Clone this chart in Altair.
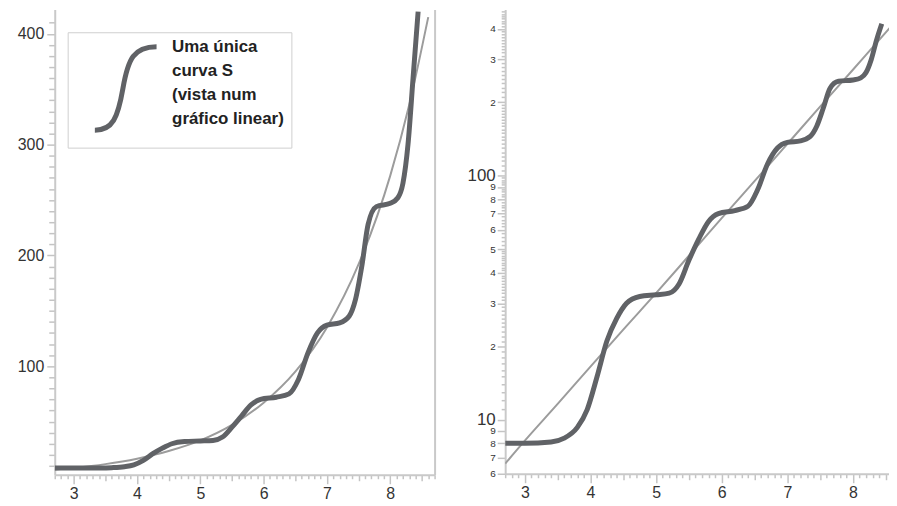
import altair as alt
import pandas as pd

# ---- data ----
curve_x = [2.7, 3.0, 3.4, 3.6, 3.8, 3.95, 4.1, 4.25, 4.4, 4.55, 4.75, 5.0, 5.2, 5.35,
           5.5, 5.65, 5.8, 5.95, 6.2, 6.4, 6.55, 6.7, 6.85, 7.0, 7.2, 7.35, 7.45,
           7.55, 7.65, 7.78, 8.0, 8.12, 8.2, 8.28, 8.36, 8.44]
curve_y = [8, 8, 8.1, 8.4, 9.3, 11, 15, 21, 26, 30, 32, 32.5, 33, 36,
           45, 55, 65, 70, 72, 75, 88, 112, 130, 137, 139, 145, 160,
           190, 228, 244, 247, 252, 265, 300, 360, 420]

trend_x = [2.7, 3.0, 3.5, 4.0, 4.5, 5.0, 5.5, 6.0, 6.5, 7.0, 7.5, 8.0, 8.3, 8.6]
trend_y = [6.6, 8.2, 11.6, 16.5, 23.4, 33, 47, 67, 95, 135, 192, 272, 336, 415]

legend_lines = ["Uma única", "curva S", "(vista num", "gráfico linear)"]

lin_y_ticks = list(range(10, 420, 10))
x_ticks = [round(2.7 + 0.1 * i, 1) for i in range(0, 61)]
log_labeled = [6, 7, 8, 9, 10, 20, 30, 40, 50, 60, 70, 80, 90, 100, 200, 300, 400]
log_minor = (list(range(11, 20)) + list(range(21, 50)) + list(range(52, 100, 2))
             + list(range(105, 200, 5)) + list(range(210, 480, 10)))
log_ticks = sorted(set(log_labeled + log_minor))

curve_df = pd.DataFrame({"x": curve_x, "y": curve_y, "serie": ["curva"] * len(curve_x)})
trend_df = pd.DataFrame({"x": trend_x, "y": trend_y})

THICK = "#606266"
THIN = "#9c9c9c"
AXIS = "#c9c9c9"
FONT = "Liberation Sans"

is_int = "abs(datum.value - round(datum.value)) < 0.001"
is_half = "abs(datum.value * 2 - round(datum.value * 2)) < 0.001"


def x_axis():
    return alt.Axis(
        values=x_ticks,
        labelExpr=f"{is_int} ? format(datum.value, 'd') : ''",
        tickSize={"condition": [{"test": is_int, "value": 9}, {"test": is_half, "value": 6}], "value": 4},
        labelFontSize={"condition": {"test": is_int, "value": 16}, "value": 0},
        labelPadding=2, title=None,
    )


# ---------- left panel (linear) ----------
xsL = alt.Scale(domain=[2.7, 8.7], nice=False, zero=False)
ysL = alt.Scale(domain=[2, 422], nice=False, zero=False)

yaxisL = alt.Axis(
    values=lin_y_ticks,
    labelExpr="datum.value % 100 == 0 ? datum.label : ''",
    tickSize={"condition": {"test": "datum.value % 100 == 0", "value": 8}, "value": 6},
    labelFontSize={"condition": {"test": "datum.value % 100 == 0", "value": 16}, "value": 0},
    labelPadding=3, minExtent=47, maxExtent=47, title=None,
)
border_axis = alt.Axis(orient="right", labels=False, ticks=False, grid=False, domain=True,
                       minExtent=0, maxExtent=0, title=None)

symbol_path = "M-0.62,0.894 C-0.24,0.894 -0.13,0.63 -0.02,0 C0.09,-0.63 0.21,-0.894 0.7,-0.894"

trend_left = alt.Chart(trend_df).mark_line(
    color=THIN, strokeWidth=2, interpolate="monotone", clip=True
).encode(
    x=alt.X("x:Q", scale=xsL, axis=x_axis()),
    y=alt.Y("y:Q", scale=ysL, axis=yaxisL),
)
curve_left = alt.Chart(curve_df).mark_line(
    strokeWidth=5, interpolate="monotone", clip=True
).encode(
    x=alt.X("x:Q", scale=xsL, axis=x_axis()),
    y=alt.Y("y:Q", scale=ysL, axis=border_axis),
    color=alt.Color(
        "serie:N",
        scale=alt.Scale(domain=["curva"], range=[THICK]),
        legend=alt.Legend(
            orient="none", legendX=13, legendY=23,
            title=legend_lines, titleOrient="right", titleAnchor="start",
            titleFontSize=17, titleFontWeight="bold", titleLineHeight=24,
            titleColor="#222222", titleFont=FONT, titlePadding=-1, titleLimit=300,
            labelExpr="''", labelOffset=0,
            symbolType=symbol_path, symbolSize=8836, symbolStrokeWidth=5,
            symbolFillColor="transparent", symbolStrokeColor=THICK,
            padding=7, strokeColor="#cfcfcf", fillColor="white",
        ),
    ),
)
left = alt.layer(trend_left, curve_left).resolve_axis(y="independent").properties(
    width=382, height=468
)

# ---------- right panel (log) ----------
xsR = alt.Scale(domain=[2.7, 8.55], nice=False, zero=False)
ysR = alt.Scale(type="log", domain=[6, 481], nice=False)
lab_test = "indexof(" + str(log_labeled) + ", datum.value) >= 0"
big_test = "datum.value == 10 || datum.value == 100"
yaxisR = alt.Axis(
    values=log_ticks,
    labelExpr=f"{lab_test} ? (({big_test}) ? datum.label : substring(toString(datum.value), 0, 1)) : ''",
    tickSize={"condition": {"test": lab_test, "value": 8}, "value": 4},
    labelFontSize={"condition": [{"test": big_test, "value": 17}, {"test": lab_test, "value": 10}], "value": 0},
    labelPadding=2, minExtent=51, maxExtent=51, title=None,
)
trend_right = alt.Chart(trend_df).mark_line(
    color=THIN, strokeWidth=2, interpolate="monotone", clip=True
).encode(
    x=alt.X("x:Q", scale=xsR, axis=x_axis()),
    y=alt.Y("y:Q", scale=ysR, axis=yaxisR),
)
curve_right = alt.Chart(curve_df).mark_line(
    color=THICK, strokeWidth=5, interpolate="monotone", clip=True
).encode(
    x=alt.X("x:Q", scale=xsR, axis=x_axis()),
    y=alt.Y("y:Q", scale=ysR, axis=yaxisR),
)
right = alt.layer(trend_right, curve_right).properties(width=386, height=467)

chart = alt.hconcat(left, right, spacing=19).resolve_scale(
    color="independent", x="independent", y="independent"
).resolve_legend(color="independent").properties(padding=0).configure_axis(
    labelFont=FONT, labelColor="#333333", domainColor=AXIS, domainWidth=2,
    tickColor="#c4c4c4", tickWidth=1.5, grid=False, labelOverlap=False, labelBound=False,
).configure_view(strokeWidth=0)

chart.save("out.html", embed_options={"renderer": "svg", "actions": False})
